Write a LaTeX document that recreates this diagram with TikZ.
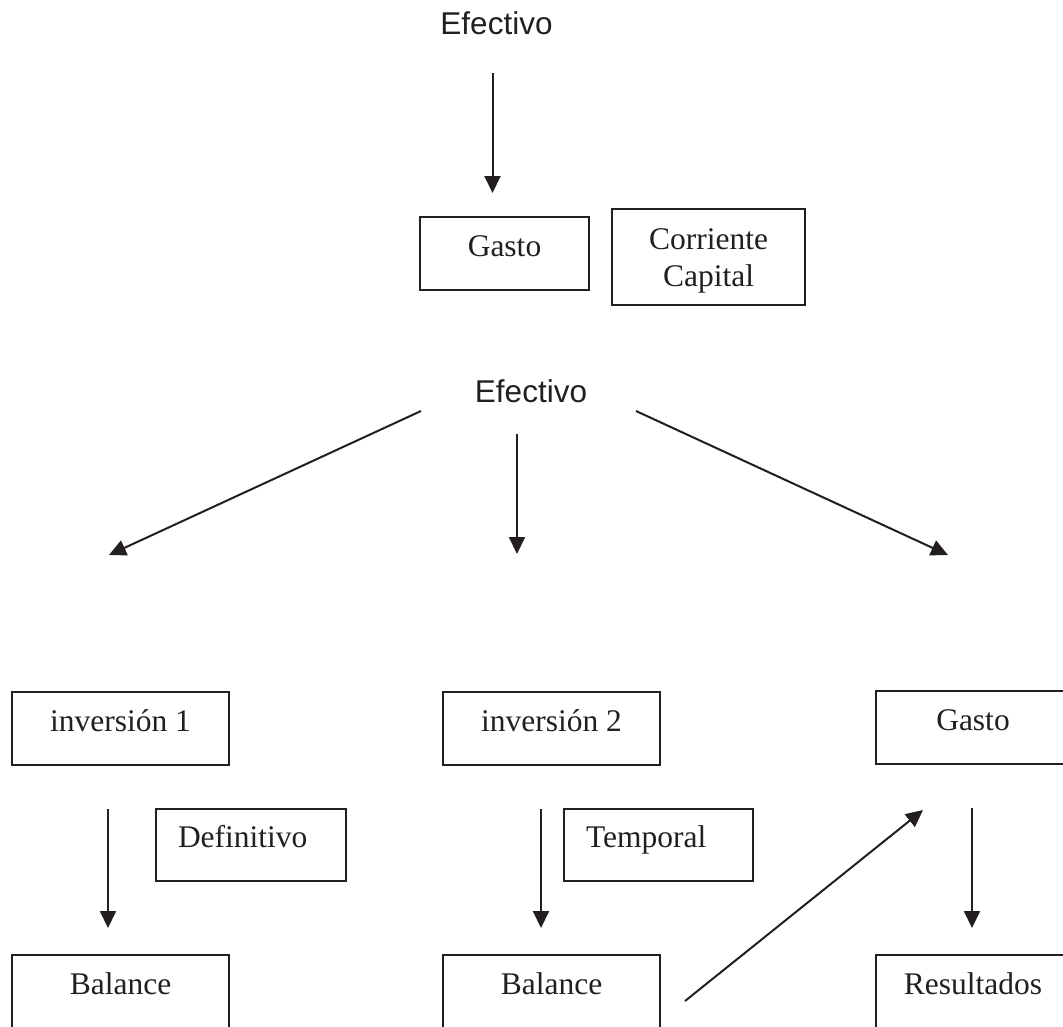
\documentclass[tikz,border=0pt]{standalone}
\usepackage{fontspec}
\setmainfont{Liberation Serif}
\newfontfamily\headfont{Liberation Sans}
\usetikzlibrary{arrows.meta}
\definecolor{ink}{RGB}{35,31,32}

\begin{document}
\begin{tikzpicture}[x=1pt, y=-1pt,
  framed/.style={draw=ink, text=ink, line width=2.2pt, inner sep=0pt,
    font=\fontsize{31.5}{37}\selectfont},
  box/.style={framed, text height=22pt, text depth=17pt, align=center},
  leftbox/.style={box, align=left, inner xsep=22pt},
  head/.style={text=ink, inner sep=0pt, font=\headfont\fontsize{31.5}{37}\selectfont},
  link/.style={draw=ink, line width=2pt, -{Triangle[length=17pt,width=16pt]}}]

\useasboundingbox (0,0) rectangle (1063,1026);
\clip (0,0) rectangle (1063,1026);

% upper scheme
\node[head] (efe1) at (496.5,23.5) {Efectivo};
\node[box, minimum width=169pt, minimum height=73pt] (gasto1) at (504.5,253.5) {Gasto};
\node[framed, minimum width=193pt, minimum height=96pt, align=center,
      font=\fontsize{31.5}{37}\selectfont] (tipo) at (708.5,257)
      {\rule{0pt}{29pt}Corriente\\Capital};

% lower scheme: source
\node[head] (efe2) at (531,391.5) {Efectivo};

% first row of boxes
\node[box, minimum width=217pt, minimum height=73pt] (inv1) at (120.5,728.5) {inversión 1};
\node[box, minimum width=217pt, minimum height=73pt] (inv2) at (551.5,728.5) {inversión 2};
\node[box, minimum width=194pt, minimum height=73pt] (gasto2) at (973,727.5) {Gasto};

% qualifiers
\node[leftbox, text width=146pt, minimum height=72pt] (defi) at (251,845) {Definitivo};
\node[leftbox, text width=145pt, minimum height=72pt] (temp) at (658.5,845) {Temporal};

% second row of boxes (running past the lower edge)
\node[box, minimum width=217pt, minimum height=73pt] (bal1) at (120.5,991.5) {Balance};
\node[box, minimum width=217pt, minimum height=73pt] (bal2) at (551.5,991.5) {Balance};
\node[box, minimum width=194pt, minimum height=73pt] (res) at (973,991.5) {Resultados};

% arrow ends
\coordinate (a1s) at (492.5,73);   \coordinate (a1e) at (492.5,193);
\coordinate (l s) at (421,411);    \coordinate (l e) at (109,555);
\coordinate (c s) at (517,434);    \coordinate (c e) at (517,554);
\coordinate (r s) at (636,411);    \coordinate (r e) at (948,555);
\coordinate (k1s) at (108,809);    \coordinate (k1e) at (108,928);
\coordinate (k2s) at (541,809);    \coordinate (k2e) at (541,928);
\coordinate (k3s) at (972,808);    \coordinate (k3e) at (972,928);
\coordinate (ds) at (685,1001);    \coordinate (de) at (923,810);

\draw[link] (a1s) -- (a1e);
\draw[link] (l s) -- (l e);
\draw[link] (c s) -- (c e);
\draw[link] (r s) -- (r e);
\draw[link] (k1s) -- (k1e);
\draw[link] (k2s) -- (k2e);
\draw[link] (k3s) -- (k3e);
\draw[link] (ds) -- (de);
\end{tikzpicture}
\end{document}
